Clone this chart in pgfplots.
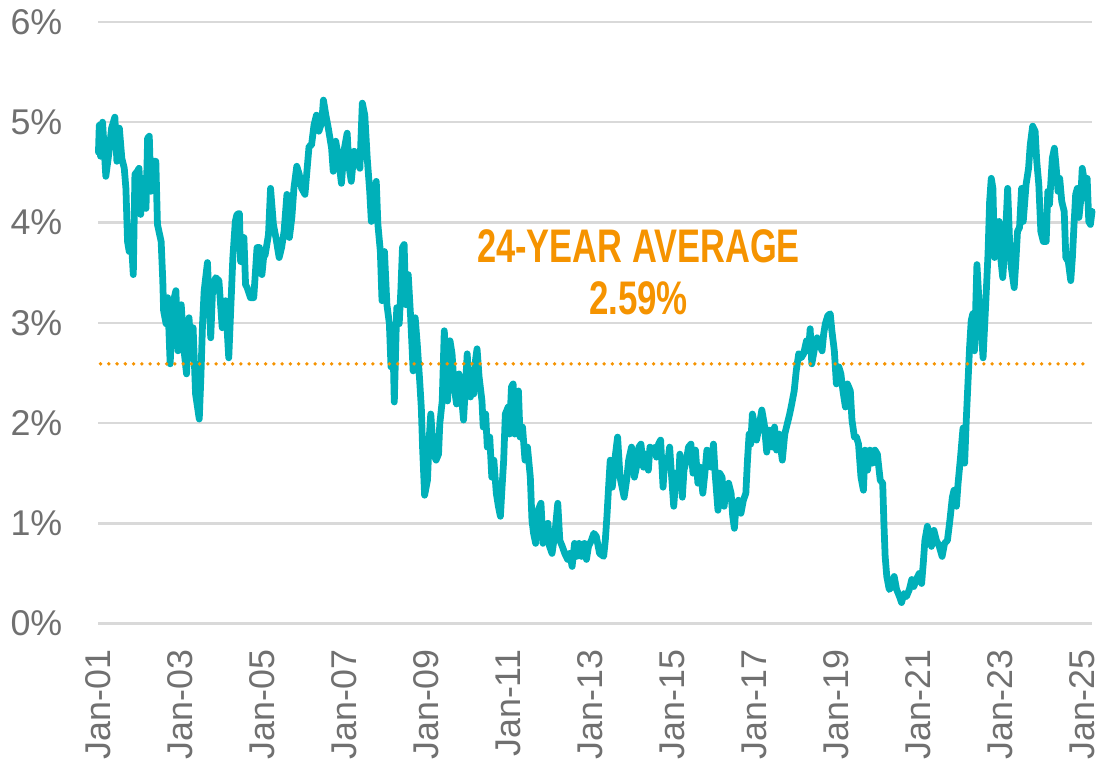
\documentclass[border=0pt]{standalone}
\usepackage{pgfplots}
\pgfplotsset{compat=1.18}
\usepackage{graphicx}
\usepackage{fontspec}
\setmainfont{Liberation Sans}
\definecolor{teal1}{RGB}{0,176,185}
\definecolor{orng}{RGB}{245,147,0}
\definecolor{lbl}{RGB}{112,112,112}
\definecolor{grd}{RGB}{217,217,217}
\begin{document}
\begin{tikzpicture}
\begin{axis}[
  scale only axis,
  width=499.5pt, height=302.5pt,
  xmin=2001, xmax=2025.25,
  ymin=0, ymax=6,
  clip=false,
  axis line style={draw=none},
  tick style={draw=none},
  ymajorgrids,
  major grid style={color=grd, line width=1.2pt},
  xtick={2001,2003,2005,2007,2009,2011,2013,2015,2017,2019,2021,2023,2025},
  xticklabels={Jan-01,Jan-03,Jan-05,Jan-07,Jan-09,Jan-11,Jan-13,Jan-15,Jan-17,Jan-19,Jan-21,Jan-23,Jan-25},
  ytick={0,1,2,3,4,5,6},
  yticklabels={0\%,1\%,2\%,3\%,4\%,5\%,6\%},
  xticklabel style={rotate=90, anchor=east, inner sep=0pt, text=lbl, font=\fontsize{18}{20}\selectfont},
  yticklabel style={anchor=east, inner sep=0pt, text=lbl, font=\fontsize{18}{20}\selectfont},
  xticklabel shift=13pt,
  yticklabel shift=18pt,
]
\addplot[teal1, line width=3.4pt, line join=round, line cap=round] coordinates {
(2001.00,4.70) (2001.02,4.97) (2001.05,4.66) (2001.10,5.00) (2001.18,4.46) (2001.26,4.71) (2001.32,4.94) (2001.40,5.05) (2001.45,4.61) (2001.51,4.94) (2001.57,4.64) (2001.63,4.54) (2001.67,4.34) (2001.71,3.81) (2001.75,3.71) (2001.79,3.91) (2001.85,3.48) (2001.89,4.48) (2001.95,4.51) (2001.99,4.54)
(2002.03,4.08) (2002.10,4.44) (2002.16,4.14) (2002.20,4.84) (2002.24,4.86) (2002.28,4.31) (2002.34,4.61) (2002.40,4.61) (2002.44,3.98) (2002.53,3.81) (2002.57,3.42) (2002.59,3.12) (2002.65,2.99) (2002.69,3.25) (2002.75,2.59) (2002.81,3.18) (2002.89,3.32) (2002.94,2.72)
(2003.02,3.18) (2003.09,2.72) (2003.15,2.49) (2003.21,3.05) (2003.25,2.79) (2003.31,2.95) (2003.37,2.29) (2003.46,2.04) (2003.50,2.46) (2003.54,2.99) (2003.58,3.32) (2003.66,3.60) (2003.74,2.85) (2003.78,3.28) (2003.86,3.45) (2003.94,3.42)
(2004.02,2.95) (2004.10,3.22) (2004.18,2.65) (2004.22,3.05) (2004.28,3.65) (2004.34,4.01) (2004.38,4.08) (2004.44,4.09) (2004.47,3.61) (2004.55,3.85) (2004.59,3.38) (2004.63,3.35) (2004.71,3.25) (2004.79,3.25) (2004.87,3.75) (2004.93,3.75) (2004.99,3.48)
(2005.03,3.65) (2005.07,3.68) (2005.15,3.88) (2005.20,4.34) (2005.27,3.98) (2005.33,3.85) (2005.41,3.65) (2005.47,3.75) (2005.53,3.91) (2005.60,4.28) (2005.66,3.85) (2005.72,4.05) (2005.77,4.34) (2005.84,4.56) (2005.90,4.48) (2005.96,4.34)
(2006.04,4.28) (2006.10,4.57) (2006.14,4.76) (2006.20,4.77) (2006.26,4.97) (2006.32,5.07) (2006.38,4.91) (2006.45,5.00) (2006.49,5.22) (2006.55,5.07) (2006.61,4.94) (2006.69,4.74) (2006.73,4.51) (2006.79,4.81) (2006.85,4.67) (2006.93,4.39) (2006.99,4.71)
(2007.07,4.89) (2007.11,4.57) (2007.17,4.41) (2007.24,4.71) (2007.30,4.64) (2007.38,4.54) (2007.44,5.19) (2007.50,5.07) (2007.56,4.64) (2007.62,4.31) (2007.66,4.01) (2007.72,4.21) (2007.78,4.41) (2007.82,3.98) (2007.88,3.71) (2007.92,3.22) (2007.98,3.71)
(2008.04,3.18) (2008.10,2.99) (2008.14,2.56) (2008.18,2.95) (2008.22,2.21) (2008.28,3.15) (2008.34,2.99) (2008.38,3.32) (2008.42,3.75) (2008.46,3.78) (2008.50,3.18) (2008.56,3.48) (2008.62,3.05) (2008.68,2.52) (2008.73,3.05) (2008.78,2.79) (2008.84,2.42) (2008.88,2.15) (2008.91,1.76) (2008.96,1.28)
(2009.03,1.43) (2009.07,1.83) (2009.11,2.09) (2009.18,1.69) (2009.24,1.63) (2009.30,1.69) (2009.33,1.99) (2009.39,2.22) (2009.44,2.92) (2009.48,2.62) (2009.52,2.22) (2009.58,2.82) (2009.63,2.69) (2009.68,2.36) (2009.74,2.19) (2009.80,2.49) (2009.87,2.22) (2009.91,2.03) (2009.96,2.39)
(2010.00,2.69) (2010.04,2.36) (2010.08,2.26) (2010.12,2.46) (2010.16,2.29) (2010.20,2.62) (2010.24,2.74) (2010.29,2.46) (2010.36,2.22) (2010.39,1.96) (2010.45,2.09) (2010.49,1.76) (2010.55,1.86) (2010.60,1.46) (2010.65,1.63) (2010.71,1.30) (2010.76,1.17) (2010.81,1.07) (2010.85,1.36) (2010.89,1.63) (2010.93,2.09)
(2011.00,2.16) (2011.03,1.89) (2011.08,2.36) (2011.12,2.39) (2011.16,1.89) (2011.21,2.22) (2011.25,2.32) (2011.29,1.86) (2011.35,1.96) (2011.41,1.63) (2011.47,1.76) (2011.54,1.46) (2011.58,1.03) (2011.62,0.90) (2011.67,0.80) (2011.73,1.13) (2011.80,1.20) (2011.85,0.80) (2011.91,0.96) (2011.97,1.00)
(2012.01,0.77) (2012.07,0.70) (2012.14,0.90) (2012.21,1.20) (2012.26,0.83) (2012.32,0.77) (2012.38,0.70) (2012.45,0.64) (2012.50,0.70) (2012.56,0.57) (2012.62,0.80) (2012.67,0.67) (2012.73,0.80) (2012.79,0.67) (2012.86,0.80) (2012.91,0.64) (2012.96,0.77)
(2013.03,0.83) (2013.09,0.90) (2013.15,0.87) (2013.23,0.70) (2013.33,0.67) (2013.37,0.83) (2013.41,1.07) (2013.45,1.36) (2013.49,1.63) (2013.54,1.36) (2013.61,1.66) (2013.67,1.86) (2013.73,1.46) (2013.78,1.36) (2013.83,1.26) (2013.89,1.43) (2013.94,1.63)
(2014.01,1.76) (2014.08,1.46) (2014.13,1.56) (2014.19,1.76) (2014.24,1.79) (2014.30,1.56) (2014.35,1.69) (2014.42,1.53) (2014.46,1.76) (2014.51,1.73) (2014.58,1.76) (2014.62,1.66) (2014.67,1.79) (2014.72,1.83) (2014.78,1.36) (2014.82,1.63) (2014.88,1.56) (2014.94,1.76) (2014.99,1.46)
(2015.04,1.17) (2015.10,1.50) (2015.15,1.36) (2015.19,1.69) (2015.25,1.26) (2015.29,1.53) (2015.35,1.63) (2015.40,1.76) (2015.46,1.79) (2015.51,1.50) (2015.57,1.73) (2015.63,1.40) (2015.69,1.56) (2015.75,1.30) (2015.80,1.50) (2015.85,1.73) (2015.91,1.66) (2015.95,1.56)
(2016.01,1.79) (2016.05,1.50) (2016.12,1.13) (2016.16,1.50) (2016.22,1.46) (2016.27,1.17) (2016.32,1.36) (2016.38,1.40) (2016.44,1.30) (2016.48,1.07) (2016.52,0.95) (2016.56,1.17) (2016.62,1.23) (2016.68,1.10) (2016.74,1.23) (2016.80,1.30) (2016.84,1.63) (2016.88,1.89) (2016.92,1.79) (2016.96,2.09)
(2017.02,1.96) (2017.06,1.83) (2017.12,1.96) (2017.19,2.13) (2017.25,1.99) (2017.31,1.71) (2017.37,1.93) (2017.41,1.89) (2017.45,1.76) (2017.50,1.96) (2017.55,1.73) (2017.61,1.89) (2017.69,1.63) (2017.75,1.89) (2017.81,1.99) (2017.87,2.09) (2017.92,2.19) (2017.98,2.32)
(2018.03,2.52) (2018.09,2.69) (2018.15,2.65) (2018.21,2.69) (2018.28,2.82) (2018.33,2.72) (2018.37,2.94) (2018.41,2.59) (2018.48,2.75) (2018.54,2.85) (2018.60,2.79) (2018.66,2.72) (2018.70,2.89) (2018.74,2.99) (2018.80,3.07) (2018.86,3.09) (2018.90,2.92) (2018.96,2.72)
(2019.01,2.39) (2019.07,2.56) (2019.12,2.49) (2019.17,2.32) (2019.23,2.16) (2019.28,2.39) (2019.35,2.32) (2019.39,2.03) (2019.45,1.86) (2019.50,1.86) (2019.55,1.79) (2019.61,1.46) (2019.67,1.33) (2019.71,1.73) (2019.77,1.53) (2019.83,1.73) (2019.89,1.60) (2019.95,1.73)
(2020.01,1.69) (2020.08,1.43) (2020.14,1.40) (2020.17,1.00) (2020.20,0.67) (2020.24,0.47) (2020.30,0.34) (2020.36,0.37) (2020.42,0.47) (2020.48,0.34) (2020.55,0.27) (2020.60,0.21) (2020.66,0.30) (2020.72,0.27) (2020.79,0.34) (2020.85,0.44) (2020.90,0.37) (2020.96,0.44)
(2021.03,0.50) (2021.09,0.40) (2021.13,0.60) (2021.17,0.83) (2021.23,0.97) (2021.28,0.87) (2021.33,0.77) (2021.39,0.93) (2021.45,0.83) (2021.52,0.77) (2021.59,0.67) (2021.65,0.80) (2021.72,0.83) (2021.78,1.03) (2021.84,1.26) (2021.88,1.33) (2021.94,1.17) (2021.98,1.40)
(2022.04,1.66) (2022.10,1.95) (2022.14,1.60) (2022.18,2.03) (2022.22,2.39) (2022.26,2.75) (2022.30,3.02) (2022.34,3.09) (2022.38,2.72) (2022.44,3.58) (2022.49,3.22) (2022.55,2.89) (2022.59,2.65) (2022.65,3.15) (2022.71,3.68) (2022.75,4.21) (2022.79,4.44) (2022.83,4.34) (2022.87,3.65) (2022.93,3.95) (2022.98,4.01)
(2023.03,3.61) (2023.07,3.45) (2023.13,3.81) (2023.19,4.34) (2023.24,3.78) (2023.28,3.55) (2023.35,3.35) (2023.39,3.61) (2023.43,3.91) (2023.48,3.95) (2023.53,4.34) (2023.57,4.01) (2023.64,4.38) (2023.70,4.54) (2023.74,4.77) (2023.80,4.96) (2023.86,4.91) (2023.90,4.61) (2023.95,4.38)
(2024.00,3.91) (2024.06,3.81) (2024.13,3.81) (2024.17,4.31) (2024.21,4.18) (2024.28,4.64) (2024.33,4.74) (2024.37,4.57) (2024.42,4.31) (2024.46,4.44) (2024.51,4.21) (2024.57,4.11) (2024.61,3.65) (2024.67,3.61) (2024.73,3.42) (2024.77,3.65) (2024.81,3.98) (2024.85,4.28) (2024.89,4.34) (2024.93,4.05) (2024.97,4.21)
(2025.01,4.54) (2025.05,4.44) (2025.09,4.24) (2025.13,4.44) (2025.17,4.01) (2025.21,3.98) (2025.25,4.11)
};
\addplot[orng, line width=1.9pt, line cap=round, dash pattern=on 0pt off 4.15pt] coordinates {(2001.05,2.59) (2025.2,2.59)};
\node[text=orng, font=\bfseries\fontsize{23.7}{26}\selectfont, inner sep=0pt] at (axis cs:2014.18,3.76) {\scalebox{0.73}[1]{24-YEAR AVERAGE}};
\node[text=orng, font=\bfseries\fontsize{23.7}{26}\selectfont, inner sep=0pt] at (axis cs:2014.18,3.24) {\scalebox{0.74}[1]{2.59\%}};
\end{axis}
\pgfresetboundingbox
\path (current axis.south west) ++(-49.5pt,-75pt) rectangle ++(554pt,388.5pt);
\end{tikzpicture}
\end{document}
